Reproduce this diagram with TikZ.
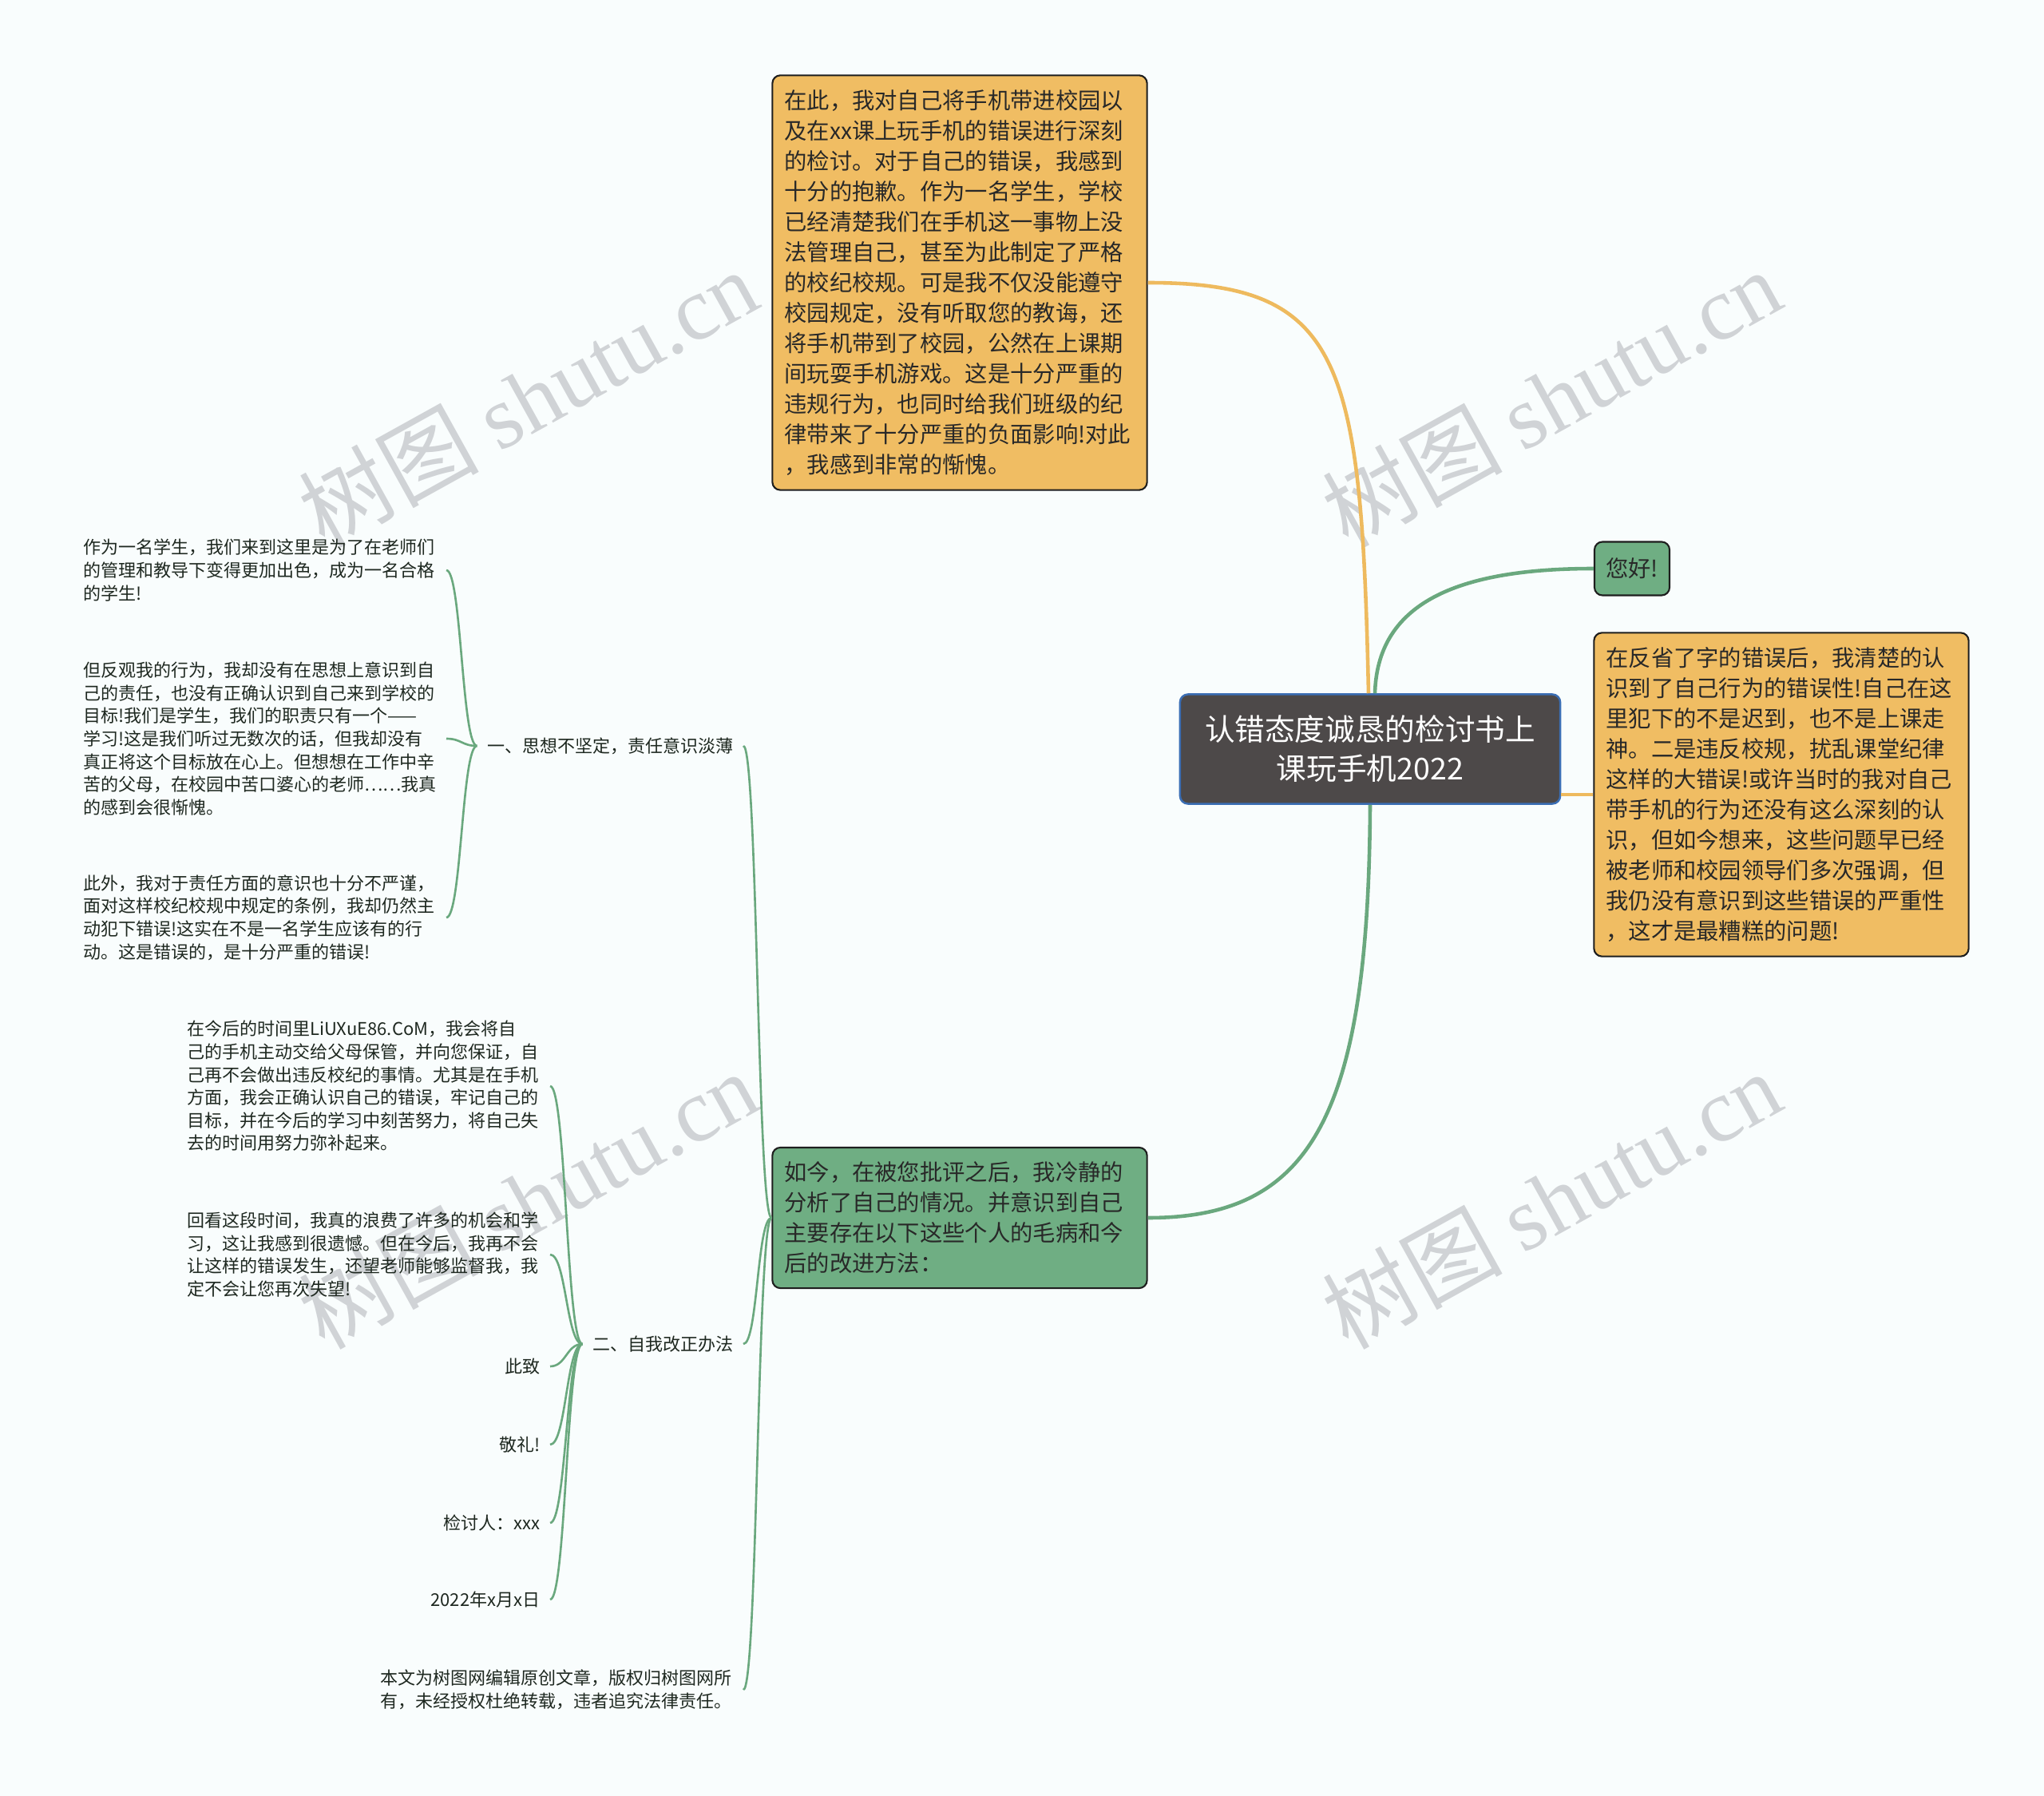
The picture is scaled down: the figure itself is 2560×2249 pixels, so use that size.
\documentclass[tikz,border=0pt]{standalone}
\usepackage{fontspec}
\setmainfont{Noto Sans CJK SC}
\newfontfamily\wmfont{Liberation Serif}

\definecolor{bgcol}{RGB}{249,253,253}
\definecolor{orangefill}{RGB}{240,189,99}
\definecolor{orangeline}{RGB}{238,186,94}
\definecolor{greenfill}{RGB}{111,174,131}
\definecolor{greenline}{RGB}{106,168,126}
\definecolor{rootfill}{RGB}{77,73,73}
\definecolor{rootedge}{RGB}{59,110,180}
\definecolor{boxedge}{RGB}{30,30,30}
\definecolor{boxtext}{RGB}{40,40,40}
\definecolor{leaftext}{RGB}{30,40,32}
\definecolor{wmgray}{RGB}{208,211,214}

\tikzstyle{rootbox}=[rectangle, rounded corners=0.1cm, draw=rootedge, line width=0.7pt, fill=rootfill, text=white, align=center, minimum width=4.76cm, minimum height=1.37cm, font=\fontsize{10.7pt}{13.9pt}\selectfont]
\tikzstyle{orangebox}=[rectangle, rounded corners=0.1cm, draw=boxedge, line width=0.6pt, fill=orangefill, text=boxtext, align=left, inner xsep=0.15cm, text width=4.39cm, font=\fontsize{8.05pt}{10.8pt}\selectfont]
\tikzstyle{greenbox}=[orangebox, fill=greenfill]
\tikzstyle{leaf}=[inner xsep=0.12cm, inner ysep=0pt, text=leaftext, align=left, text width=4.42cm, font=\fontsize{6.26pt}{8.14pt}\selectfont]
\tikzstyle{leafshort}=[inner xsep=0.12cm, inner ysep=0pt, text=leaftext, anchor=east, font=\fontsize{6.26pt}{8.14pt}\selectfont]
\tikzstyle{watermark}=[rotate=29, text=wmgray, font=\fontsize{32pt}{32pt}\selectfont]
\tikzstyle{linkorange}=[draw=orangeline, line width=1.3pt]
\tikzstyle{linkmain}=[draw=greenline, line width=1.3pt]
\tikzstyle{linkthin}=[draw=greenline, line width=0.75pt]

\begin{document}
\begin{tikzpicture}[x=0.01cm, y=-0.01cm]
\useasboundingbox (0,0) rectangle (2560,2249);
\fill[bgcol] (0,0) rectangle (2560,2249);

% watermarks
\node (wm1) [watermark] at (661,498) {树图 \wmfont shutu.cn};
\node (wm2) [watermark] at (1943,498) {树图 \wmfont shutu.cn};
\node (wm3) [watermark] at (661,1502) {树图 \wmfont shutu.cn};
\node (wm4) [watermark] at (1943,1502) {树图 \wmfont shutu.cn};

% main boxes
\node (root) [rootbox] at (1716,938) {认错态度诚恳的检讨书上\\课玩手机2022};
\node (box1) [orangebox, minimum height=5.19cm] at (1202,354) {在此，我对自己将手机带进校园以\\及在xx课上玩手机的错误进行深刻\\的检讨。对于自己的错误，我感到\\十分的抱歉。作为一名学生，学校\\已经清楚我们在手机这一事物上没\\法管理自己，甚至为此制定了严格\\的校纪校规。可是我不仅没能遵守\\校园规定，没有听取您的教诲，还\\将手机带到了校园，公然在上课期\\间玩耍手机游戏。这是十分严重的\\违规行为，也同时给我们班级的纪\\律带来了十分严重的负面影响!对此\\，我感到非常的惭愧。};
\node (hello) [greenbox, text width=, align=center, minimum width=0.94cm, minimum height=0.67cm, inner xsep=0.05cm] at (2044,712) {您好!};
\node (box2) [orangebox, minimum height=4.05cm] at (2231,995) {在反省了字的错误后，我清楚的认\\识到了自己行为的错误性!自己在这\\里犯下的不是迟到，也不是上课走\\神。二是违反校规，扰乱课堂纪律\\这样的大错误!或许当时的我对自己\\带手机的行为还没有这么深刻的认\\识，但如今想来，这些问题早已经\\被老师和校园领导们多次强调，但\\我仍没有意识到这些错误的严重性\\，这才是最糟糕的问题!};
\node (box3) [greenbox, minimum height=1.76cm] at (1202,1525) {如今，在被您批评之后，我冷静的\\分析了自己的情况。并意识到自己\\主要存在以下这些个人的毛病和今\\后的改进方法：};

% first level of the left side
\node (sec1) [leafshort] at (931,934) {一、思想不坚定，责任意识淡薄};
\node (sec2) [leafshort] at (931,1683) {二、自我改正办法};
\node (note) [leaf, anchor=east] at (931,2116) {本文为树图网编辑原创文章，版权归树图网所\\有，未经授权杜绝转载，违者追究法律责任。};

% children of sec1
\node (leaf1a) [leaf, anchor=east] at (559,714) {作为一名学生，我们来到这里是为了在老师们\\的管理和教导下变得更加出色，成为一名合格\\的学生!};
\node (leaf1b) [leaf, anchor=east] at (559,925) {但反观我的行为，我却没有在思想上意识到自\\己的责任，也没有正确认识到自己来到学校的\\目标!我们是学生，我们的职责只有一个——\\学习!这是我们听过无数次的话，但我却没有\\真正将这个目标放在心上。但想想在工作中辛\\苦的父母，在校园中苦口婆心的老师……我真\\的感到会很惭愧。};
\node (leaf1c) [leaf, anchor=east] at (559,1149) {此外，我对于责任方面的意识也十分不严谨，\\面对这样校纪校规中规定的条例，我却仍然主\\动犯下错误!这实在不是一名学生应该有的行\\动。这是错误的，是十分严重的错误!};

% children of sec2
\node (leaf2a) [leaf, anchor=east] at (689,1360) {在今后的时间里LiUXuE86.CoM，我会将自\\己的手机主动交给父母保管，并向您保证，自\\己再不会做出违反校纪的事情。尤其是在手机\\方面，我会正确认识自己的错误，牢记自己的\\目标，并在今后的学习中刻苦努力，将自己失\\去的时间用努力弥补起来。};
\node (leaf2b) [leaf, anchor=east] at (689,1571) {回看这段时间，我真的浪费了许多的机会和学\\习，这让我感到很遗憾。但在今后，我再不会\\让这样的错误发生，还望老师能够监督我，我\\定不会让您再次失望!};
\node (leaf2c) [leafshort] at (689,1711) {此致};
\node (leaf2d) [leafshort] at (689,1809) {敬礼!};
\node (leaf2e) [leafshort] at (689,1907) {检讨人：xxx};
\node (leaf2f) [leafshort] at (689,2003) {2022年x月x日};

% connectors from the root
\draw[linkorange] ([xshift=-0.02cm]root.north) .. controls +(-9,-420) and +(243,0) .. (box1.east);
\draw[linkmain] ([xshift=0.06cm]root.north) .. controls +(3,-110) and +(-177,0) .. (hello.west);
\draw[linkorange] (root.east |- box2.west) -- (box2.west);
\draw[linkmain] (root.south) .. controls +(-2,393) and +(203,0) .. (box3.east);

% connectors on the left
\foreach \child in {sec1,sec2,note}
  \draw[linkthin] (box3.west) .. controls +(-18,0) and +(18,0) .. (\child.east);
\foreach \child in {leaf1a,leaf1b,leaf1c}
  \draw[linkthin] (sec1.west) .. controls +(-19,0) and +(19,0) .. (\child.east);
\foreach \child in {leaf2a,leaf2b,leaf2c,leaf2d,leaf2e,leaf2f}
  \draw[linkthin] (sec2.west) .. controls +(-20,0) and +(20,0) .. (\child.east);
\end{tikzpicture}
\end{document}
